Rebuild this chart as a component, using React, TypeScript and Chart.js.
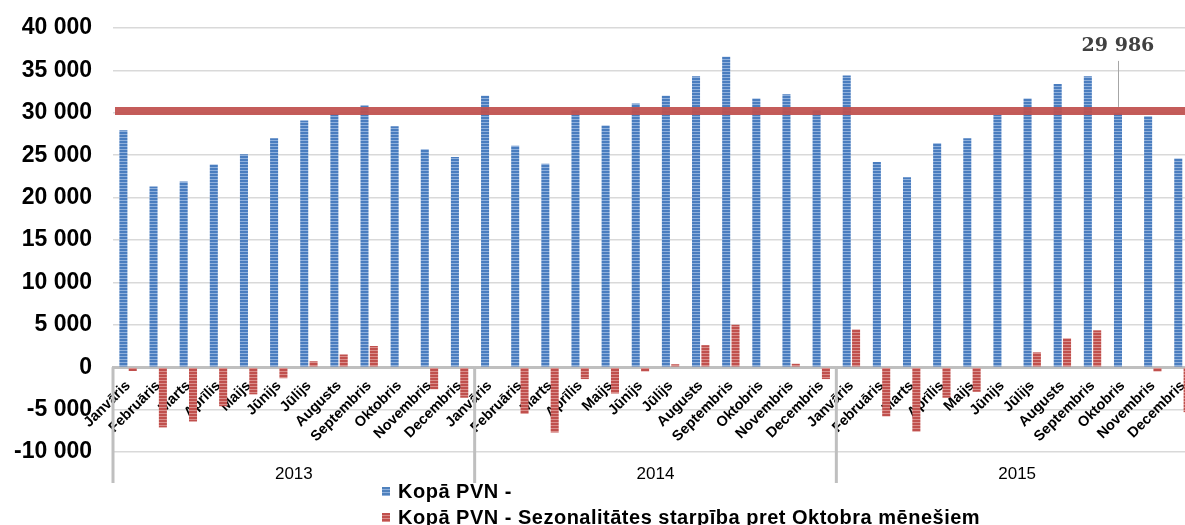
import React, { useEffect, useRef } from 'react';
import { Chart, registerables } from 'chart.js';

Chart.register(...registerables);

const MONTHS = ['Janvāris', 'Februāris', 'Marts', 'Aprīlis', 'Maijs', 'Jūnijs', 'Jūlijs', 'Augusts', 'Septembris', 'Oktobris', 'Novembris', 'Decembris'];
const YEARS = ['2013', '2014', '2015'];
const CATEGORIES = YEARS.flatMap(() => MONTHS);
const SERIES_NAMES = ['Kopā PVN -', 'Kopā PVN - Sezonalitātes starpība pret Oktobra mēnešiem'];

const PVN_TOTAL = [
  27950, 21300, 21900, 23900, 25100, 27000, 29100, 29850, 30850, 28400, 25700, 24800,
  32000, 26100, 24000, 30300, 28500, 31100, 32000, 34300, 36600, 31700, 32200, 30300,
  34400, 24200, 22400, 26400, 27000, 29750, 31700, 33400, 34300, 29986, 29600, 24600,
];
const SEASONAL_DIFF = [
  -450, -7100, -6400, -4600, -3200, -1300, 700, 1500, 2500, 0, -2600, -3600,
  0, -5500, -7700, -1400, -3100, -500, 350, 2600, 5000, 0, 400, -1400,
  4450, -5800, -7600, -3600, -2900, 0, 1750, 3400, 4350, 0, -500, -5300,
];
const REFERENCE_LEVEL = 30200;
const CALLOUT_INDEX = 33;
const Y_MIN = -10000;
const Y_MAX = 40000;
const Y_STEP = 5000;

const FONT = '"Liberation Sans", Arial, sans-serif';
const BLUE = '#4F81BD';
const RED = '#C0504D';

function fmt(v: number): string {
  const s = String(Math.abs(Math.round(v))).replace(/\B(?=(\d{3})+(?!\d))/g, ' ');
  return (v < 0 ? '-' : '') + s;
}

function stripes(ctx: CanvasRenderingContext2D, dark: string, light: string) {
  const c = document.createElement('canvas');
  c.width = 4;
  c.height = 3;
  const g = c.getContext('2d')!;
  g.fillStyle = dark;
  g.fillRect(0, 0, 4, 2);
  g.fillStyle = light;
  g.fillRect(0, 2, 4, 1);
  return ctx.createPattern(c, 'repeat');
}

const overlays = {
  id: 'overlays',
  afterDatasetsDraw(chart: any) {
    const { ctx, chartArea, scales } = chart;
    const x = scales.x;
    const y = scales.y;
    const y0 = y.getPixelForValue(0);
    const step = (x.right - x.left) / CATEGORIES.length;
    ctx.save();
    // year separators
    ctx.strokeStyle = '#BFBFBF';
    ctx.lineWidth = 3;
    for (let i = 0; i <= YEARS.length; i++) {
      const px = x.left + i * MONTHS.length * step;
      ctx.beginPath();
      ctx.moveTo(px, y0);
      ctx.lineTo(px, chartArea.bottom + 31);
      ctx.stroke();
    }
    // reference level line
    const ry = y.getPixelForValue(REFERENCE_LEVEL);
    ctx.strokeStyle = 'rgba(192,80,77,0.93)';
    ctx.lineWidth = 8;
    ctx.beginPath();
    ctx.moveTo(chartArea.left + 2, ry);
    ctx.lineTo(chartArea.right, ry);
    ctx.stroke();
    // callout label
    const bar = chart.getDatasetMeta(0).data[CALLOUT_INDEX];
    const bx = Math.round(bar.x) + 0.5;
    ctx.strokeStyle = '#A6A6A6';
    ctx.lineWidth = 1;
    ctx.beginPath();
    ctx.moveTo(bx, bar.y - 52);
    ctx.lineTo(bx, bar.y - 6);
    ctx.stroke();
    ctx.fillStyle = '#404040';
    ctx.font = 'bold 19px "DejaVu Serif", serif';
    ctx.textAlign = 'center';
    ctx.textBaseline = 'alphabetic';
    ctx.fillText(fmt(PVN_TOTAL[CALLOUT_INDEX]), bar.x, bar.y - 62);
    ctx.restore();
  },
};

function legendSwatch(color: string, light: string) {
  return `repeating-linear-gradient(to bottom, ${color} 0px, ${color} 2px, ${light} 2px, ${light} 3px)`;
}

export default function App() {
  const ref = useRef<HTMLCanvasElement>(null);

  useEffect(() => {
    const canvas = ref.current!;
    const ctx = canvas.getContext('2d')!;
    const bluePattern = stripes(ctx, '#4A7DBF', '#8FB0DC');
    const redPattern = stripes(ctx, '#C0504D', '#DA8E8B');

    const chart = new Chart(canvas, {
      type: 'bar',
      data: {
        labels: CATEGORIES,
        datasets: [
          {
            label: SERIES_NAMES[0],
            data: PVN_TOTAL,
            backgroundColor: bluePattern as any,
            categoryPercentage: 0.62,
            barPercentage: 0.86,
            borderWidth: 0,
          },
          {
            label: SERIES_NAMES[1],
            data: SEASONAL_DIFF,
            backgroundColor: redPattern as any,
            categoryPercentage: 0.62,
            barPercentage: 0.86,
            borderWidth: 0,
          },
        ],
      },
      options: {
        animation: false,
        responsive: false,
        maintainAspectRatio: false,
        layout: { padding: { top: 28, left: 0, right: 0, bottom: 0 } },
        plugins: {
          legend: { display: false },
          tooltip: { enabled: false },
        },
        scales: {
          x: {
            type: 'category',
            position: { y: 0 } as any,
            offset: true,
            z: 1,
            grid: { display: false },
            border: { display: true, color: '#BFBFBF', width: 3 },
            ticks: {
              autoSkip: false,
              minRotation: 45,
              maxRotation: 45,
              padding: 2,
              color: '#000',
              font: { family: FONT, size: 14.5, weight: 'bold' },
            },
          },
          x2: {
            type: 'category',
            labels: YEARS,
            position: 'bottom',
            offset: true,
            grid: { display: false },
            border: { display: false },
            ticks: {
              autoSkip: false,
              maxRotation: 0,
              padding: 4,
              color: '#000',
              font: { family: FONT, size: 17 },
            },
            afterFit: (s: any) => {
              s.height = 73;
            },
          },
          y: {
            min: Y_MIN,
            max: Y_MAX,
            ticks: {
              stepSize: Y_STEP,
              padding: 2,
              color: '#000',
              font: { family: FONT, size: 23, weight: 'bold' },
              callback: (v: any) => fmt(Number(v)),
            },
            grid: { color: '#D9D9D9', lineWidth: 1.5, drawTicks: true, tickLength: 19, tickColor: 'rgba(0,0,0,0)' },
            border: { display: false },
            afterFit: (s: any) => {
              s.width = 113;
            },
          },
        },
      } as any,
      plugins: [overlays],
    });
    return () => chart.destroy();
  }, []);

  return (
    <div style={{ position: 'fixed', left: 0, top: 0, width: 1185, height: 525, overflow: 'hidden', background: '#fff' }}>
      <canvas ref={ref} width={1198} height={525} style={{ display: 'block', width: 1198, height: 525 }} />
      <div
        style={{
          position: 'absolute',
          left: 382,
          top: 478,
          font: `bold 20px ${FONT}`,
          letterSpacing: '0.5px',
          color: '#000',
          lineHeight: '26px',
        }}
      >
        {SERIES_NAMES.map((name, i) => (
          <div key={name} style={{ display: 'flex', alignItems: 'center', whiteSpace: 'nowrap' }}>
            <span
              style={{
                display: 'inline-block',
                width: 8,
                height: 9,
                marginRight: 8,
                background: i === 0 ? legendSwatch(BLUE, '#8FB0DC') : legendSwatch(RED, '#DA8E8B'),
              }}
            />
            {name}
          </div>
        ))}
      </div>
    </div>
  );
}
